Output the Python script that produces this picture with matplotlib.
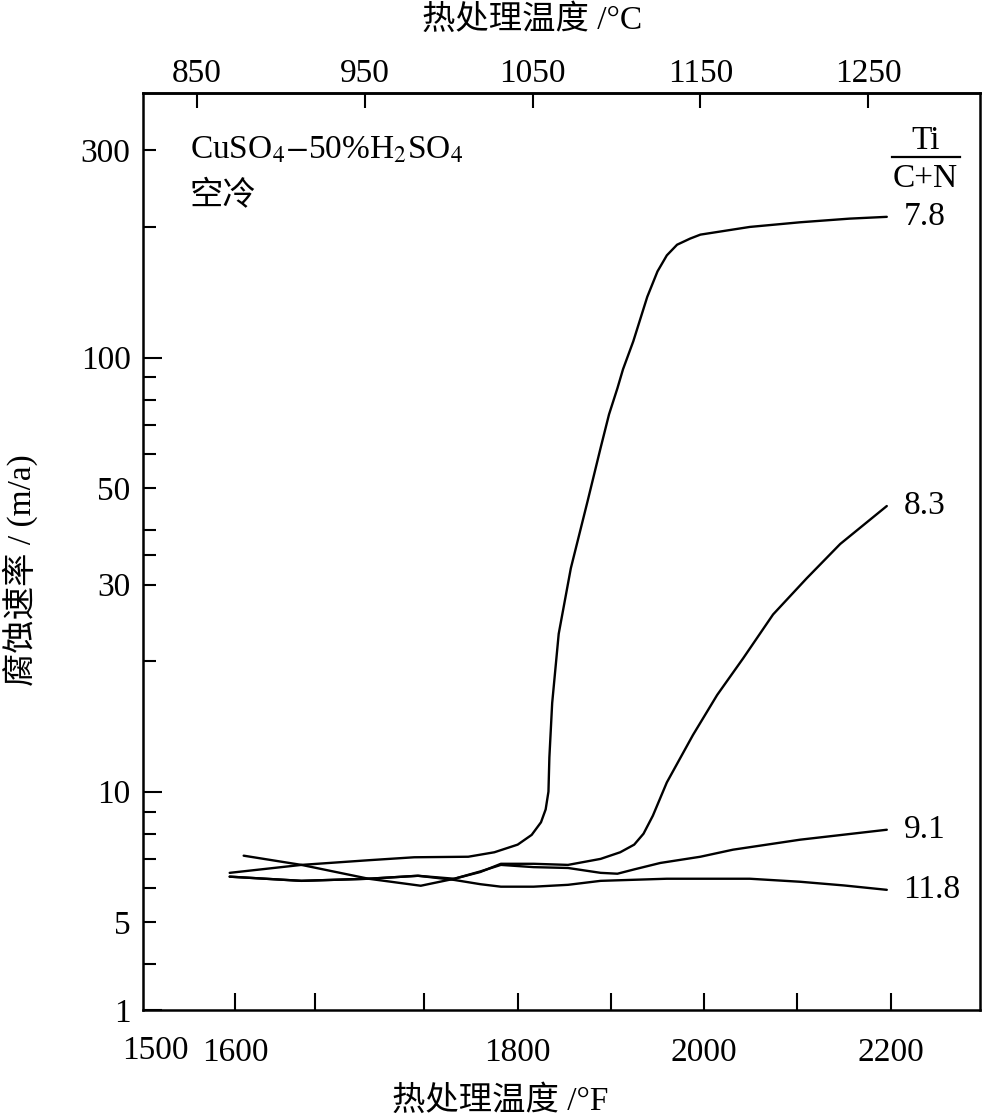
import matplotlib.pyplot as plt
from matplotlib.ticker import FixedLocator, FixedFormatter, NullFormatter
from matplotlib.transforms import blended_transform_factory
from matplotlib.lines import Line2D

plt.rcParams['font.family'] = ['Liberation Serif', 'Noto Sans CJK SC']
plt.rcParams['mathtext.fontset'] = 'stix'

# Ti/(C+N) 比值对应的四条曲线，横坐标按原图 °F 刻度读取
ratio_labels = ['7.8', '8.3', '9.1', '11.8']

t_78 = [1491, 1568, 1640, 1689, 1747, 1775, 1800, 1815, 1825, 1830, 1833, 1834,
        1837, 1844, 1857, 1875, 1889, 1898, 1907, 1913, 1924, 1939, 1950, 1960,
        1971, 1985, 1996, 2049, 2103, 2156, 2196]
r_78 = [6.50, 6.78, 6.95, 7.06, 7.08, 7.25, 7.55, 7.95, 8.5, 9.1, 10.0, 12.0,
        16.0, 23.1, 32.7, 46.7, 62.0, 74.0, 85.0, 94.0, 109, 138, 158, 172,
        182, 188, 192, 200, 205, 209, 211]

t_83 = [1491, 1568, 1640, 1693, 1732, 1760, 1782, 1817, 1854, 1889, 1910, 1925,
        1935, 1945, 1960, 1988, 2014, 2042, 2074, 2110, 2146, 2196]
r_83 = [6.37, 6.23, 6.30, 6.40, 6.30, 6.53, 6.82, 6.82, 6.78, 7.00, 7.25, 7.55,
        8.00, 8.80, 10.5, 13.5, 16.7, 20.3, 25.6, 31.0, 37.2, 45.5]

t_91 = [1506, 1568, 1640, 1696, 1732, 1760, 1782, 1817, 1854, 1889, 1907, 1925,
        1953, 1996, 2031, 2103, 2196]
r_91 = [7.12, 6.78, 6.30, 6.07, 6.30, 6.55, 6.78, 6.70, 6.67, 6.50, 6.47, 6.62,
        6.85, 7.08, 7.35, 7.75, 8.17]

t_118 = [1491, 1568, 1640, 1693, 1732, 1760, 1782, 1817, 1854, 1889, 1960, 2049,
         2103, 2150, 2196]
r_118 = [6.37, 6.23, 6.30, 6.40, 6.26, 6.12, 6.04, 6.04, 6.10, 6.23, 6.30, 6.30,
         6.20, 6.08, 5.94]

# 刻度
y_major = [3.14, 10, 100]
y_major_labels = ['1', '10', '100']
y_minor = [4, 5, 6, 7, 8, 9, 20, 30, 35, 40, 50, 60, 70, 80, 90, 200, 300]
y_minor_labels = {5: '5', 30: '30', 50: '50', 300: '300'}

x_major = [1497, 1800, 2000, 2200]
x_major_labels = ['1600', '1800', '2000', '2200']
x_minor = [1583, 1700, 1900, 2100]

c_ticks = [850, 950, 1050, 1150, 1250]


def f2c(f):
    return (f + 74) / 1.8


def c2f(c):
    return 1.8 * c - 74


fig = plt.figure(figsize=(9.84, 11.19), dpi=100)
ax = fig.add_axes([143 / 984, 1 - 1010 / 1119, 837 / 984, 917 / 1119])

for t, r, lab in zip([t_78, t_83, t_91, t_118], [r_78, r_83, r_91, r_118], ratio_labels):
    ax.plot(t, r, color='black', lw=1.7, solid_joinstyle='round', solid_capstyle='round')
    ax.annotate(lab, xy=(t[-1], r[-1]), xytext=(12, 0), textcoords='offset points',
                ha='left', va='center', fontsize=24)

ax.set_yscale('log')
ax.set_xlim(1398, 2296)
ax.set_ylim(3.14, 407)

ax.yaxis.set_major_locator(FixedLocator(y_major))
ax.yaxis.set_major_formatter(FixedFormatter(y_major_labels))
ax.yaxis.set_minor_locator(FixedLocator(y_minor))
ax.yaxis.set_minor_formatter(FixedFormatter([y_minor_labels.get(v, '') for v in y_minor]))

ax.xaxis.set_major_locator(FixedLocator(x_major))
ax.xaxis.set_major_formatter(FixedFormatter(x_major_labels))
ax.xaxis.set_minor_locator(FixedLocator(x_minor))
ax.xaxis.set_minor_formatter(NullFormatter())

ax.tick_params(axis='y', which='major', direction='in', length=14, width=1.5,
               labelsize=24, pad=9, right=False)
ax.tick_params(axis='y', which='minor', direction='in', length=9.5, width=1.5,
               labelsize=24, pad=9, right=False)
ax.tick_params(axis='x', which='both', direction='in', length=12, width=1.5,
               labelsize=24, pad=20, top=False)

trans = blended_transform_factory(ax.transData, ax.transAxes)
ax.text(1411, -0.044, '1500', transform=trans, ha='center', va='center', fontsize=24)

secax = ax.secondary_xaxis('top', functions=(f2c, c2f))
secax.set_xticks(c_ticks)
secax.set_xticklabels([str(c) for c in c_ticks])
secax.tick_params(direction='in', length=11, width=1.5, labelsize=24, pad=3)
secax.spines['top'].set_linewidth(1.8)

for s in ax.spines.values():
    s.set_linewidth(1.8)

ax.text(0.056, 0.938, r'CuSO$_4$$-$50%H$_2$SO$_4$', transform=ax.transAxes,
        ha='left', va='center', fontsize=24)
ax.text(0.056, 0.887, '空冷', transform=ax.transAxes, ha='left', va='center', fontsize=24)

# Ti/(C+N) 图例标题
ax.text(0.935, 0.948, 'Ti', transform=ax.transAxes, ha='center', va='center', fontsize=24)
ax.add_line(Line2D([0.895, 0.976], [0.930, 0.930], transform=ax.transAxes,
                   color='black', lw=1.6))
ax.text(0.935, 0.906, 'C+N', transform=ax.transAxes, ha='center', va='center', fontsize=24)

fig.text(532 / 984, 1 - 20 / 1119, '热处理温度 /°C', ha='center', va='center', fontsize=24)
fig.text(500 / 984, 1 - 1101 / 1119, '热处理温度 /°F', ha='center', va='center', fontsize=24)
fig.text(20 / 984, 1 - 570 / 1119, '腐蚀速率 / (m/a)', ha='center', va='center',
         rotation=90, fontsize=24)

fig.savefig('out.png', dpi=100)
